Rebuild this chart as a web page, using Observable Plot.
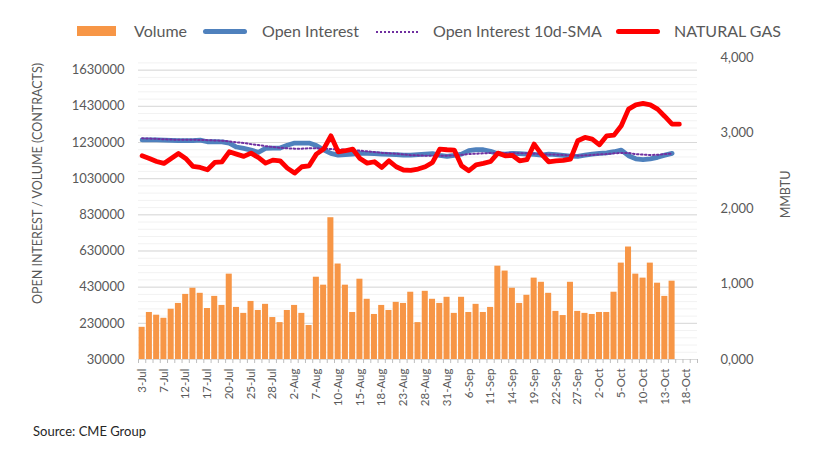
<!DOCTYPE html>
<html>
<head>
<meta charset="utf-8">
<script src="https://cdn.jsdelivr.net/npm/d3@7"></script>
<script src="https://cdn.jsdelivr.net/npm/@observablehq/plot@0.6"></script>
<style>
  html, body { margin: 0; padding: 0; background: #fff; }
  #wrap { position: relative; width: 816px; height: 457px; overflow: hidden; font-family: Lato, "Open Sans", sans-serif; color: #595959; }
  #legend { position: absolute; left: 0; top: 0; width: 816px; height: 50px; }
  .lg { position: absolute; }
  .lgt { position: absolute; top: 21px; font-size: 16px; line-height: 20px; white-space: nowrap; color: #595959; }
  #chart { position: absolute; left: 0; top: 50px; }
  #caption { position: absolute; left: 33px; top: 423px; font-size: 13px; color: #262626; }
</style>
</head>
<body>
<div id="wrap">
  <div id="legend">
    <div class="lg" style="left:77px;top:26px;width:39px;height:10px;background:#F79646"></div>
    <div class="lgt" style="left:134px">Volume</div>
    <div class="lg" style="left:203px;top:29px;width:44px;height:5px;border-radius:3px;background:#4F81BD"></div>
    <div class="lgt" style="left:262px">Open Interest</div>
    <div class="lg" style="left:376px;top:31px;width:42px;height:0;border-top:2px dotted #7030A0"></div>
    <div class="lgt" style="left:433px">Open Interest 10d-SMA</div>
    <div class="lg" style="left:616px;top:29px;width:44px;height:5px;border-radius:3px;background:#FF0000"></div>
    <div class="lgt" style="left:674px">NATURAL GAS</div>
  </div>
  <div id="chart"></div>
  <div id="caption">Source: CME Group</div>
</div>
<script>
const dates = [
  "3-Jul","5-Jul","6-Jul","7-Jul","10-Jul","11-Jul","12-Jul","13-Jul","14-Jul","17-Jul",
  "18-Jul","19-Jul","20-Jul","21-Jul","24-Jul","25-Jul","26-Jul","27-Jul","28-Jul","31-Jul",
  "1-Aug","2-Aug","3-Aug","4-Aug","7-Aug","8-Aug","9-Aug","10-Aug","11-Aug","14-Aug",
  "15-Aug","16-Aug","17-Aug","18-Aug","21-Aug","22-Aug","23-Aug","24-Aug","25-Aug","28-Aug",
  "29-Aug","30-Aug","31-Aug","1-Sep","5-Sep","6-Sep","7-Sep","8-Sep","11-Sep","12-Sep",
  "13-Sep","14-Sep","15-Sep","18-Sep","19-Sep","20-Sep","21-Sep","22-Sep","25-Sep","26-Sep",
  "27-Sep","28-Sep","29-Sep","2-Oct","3-Oct","4-Oct","5-Oct","6-Oct","9-Oct","10-Oct",
  "11-Oct","12-Oct","13-Oct","16-Oct","17-Oct","18-Oct","19-Oct"
];
const volume = [
  208000,290000,275000,258000,308000,340000,390000,424000,396000,312000,
  379000,329000,502000,318000,285000,351000,301000,335000,262000,234000,
  301000,329000,285000,218000,485000,441000,814000,558000,441000,290000,
  474000,363000,279000,329000,301000,346000,340000,402000,234000,407000,
  363000,340000,374000,285000,374000,290000,335000,290000,318000,546000,
  519000,424000,340000,385000,480000,457000,396000,296000,273000,457000,
  296000,285000,279000,290000,290000,402000,563000,652000,502000,480000,
  563000,452000,379000,463000
];
const openInterest = [
  1244000,1244000,1244000,1243000,1242000,1240000,1240000,1240000,1243000,1234000,
  1235000,1233000,1226000,1205000,1197000,1188000,1176000,1197000,1199000,1199000,
  1215000,1227000,1227000,1227000,1213000,1190000,1170000,1160000,1163000,1166000,
  1170000,1170000,1168000,1166000,1164000,1163000,1160000,1160000,1163000,1166000,
  1168000,1159000,1153000,1159000,1166000,1185000,1190000,1190000,1181000,1168000,
  1166000,1170000,1168000,1166000,1164000,1160000,1166000,1163000,1159000,1155000,
  1153000,1160000,1166000,1170000,1173000,1179000,1188000,1157000,1140000,1135000,
  1139000,1148000,1160000,1170000
];
const oiSma10 = [
  1253000,1252000,1250000,1248000,1246000,1245000,1245000,1245000,1244000,1243000,
  1241000,1240000,1236000,1231000,1227000,1221000,1216000,1210000,1205000,1201000,
  1198000,1196000,1196000,1198000,1198000,1196000,1194000,1192000,1190000,1188000,
  1185000,1181000,1177000,1173000,1170000,1168000,1164000,1160000,1159000,1157000,
  1157000,1157000,1157000,1159000,1162000,1166000,1168000,1170000,1172000,1172000,
  1172000,1172000,1170000,1170000,1168000,1166000,1164000,1163000,1161000,1159000,
  1157000,1159000,1161000,1164000,1166000,1170000,1172000,1172000,1166000,1163000,
  1161000,1162000,1166000,1168000
];
const naturalGas = [
  2698,2663,2623,2597,2663,2729,2663,2557,2544,2513,
  2610,2619,2751,2720,2690,2734,2676,2601,2641,2632,
  2535,2469,2553,2566,2720,2787,2963,2751,2765,2787,
  2663,2601,2619,2544,2632,2553,2510,2504,2522,2553,
  2610,2787,2778,2774,2566,2500,2579,2597,2623,2734,
  2698,2703,2632,2646,2853,2720,2619,2632,2637,2654,
  2897,2941,2919,2844,2963,2972,3095,3316,3373,3391,
  3373,3316,3219,3117,3117
];
const leftTicks = [30000,230000,430000,630000,830000,1030000,1230000,1430000,1630000];
const minorTicks = d3.range(30000, 1700000, 40000);
const rightTicks = [0,1000,2000,3000,4000];
const rightTickLabels = ["0,000","1,000","2,000","3,000","4,000"];
const xTickLabels = dates.filter((d, i) => i % 3 === 0);
const leftTitle = "OPEN INTEREST / VOLUME (CONTRACTS)";
const rightTitle = "MMBTU";

const leftMin = 30000, leftMax = 1700000, rightMax = 4000;
const toLeft = v => leftMin + v * (leftMax - leftMin) / rightMax;

const volRows = volume.map((v, i) => ({date: dates[i], v}));
const oiRows = openInterest.map((v, i) => ({date: dates[i], v}));
const smaRows = oiSma10.map((v, i) => ({date: dates[i], v}));
const gasRows = naturalGas.map((v, i) => ({date: dates[i], v: toLeft(v)}));

const W = 816, H = 370, mL = 138, mR = 119, mT = 7, mB = 61;
const step = (W - mL - mR) / dates.length;
const grey = "#595959";

const chart = Plot.plot({
  width: W, height: H,
  marginLeft: mL, marginRight: mR, marginTop: mT, marginBottom: mB,
  style: {fontFamily: "Lato, 'Open Sans', sans-serif", color: grey, background: "white", overflow: "visible"},
  x: {type: "band", domain: dates, paddingInner: 0.17, paddingOuter: 0.085, align: 0.5, round: false},
  y: {domain: [leftMin, leftMax], nice: false},
  marks: [
    Plot.gridY(minorTicks, {stroke: "#F2F2F2", strokeOpacity: 1}),
    Plot.gridY(leftTicks, {stroke: "#D9D9D9", strokeOpacity: 1}),
    Plot.ruleY([leftMin], {stroke: "#D9D9D9", strokeWidth: 1}),
    Plot.barY(volRows, {x: "date", y1: leftMin, y2: "v", fill: "#F79646"}),
    Plot.line(oiRows, {x: "date", y: "v", stroke: "#4F81BD", strokeWidth: 4.8, strokeLinejoin: "round", strokeLinecap: "round"}),
    Plot.line(smaRows, {x: "date", y: "v", stroke: "#7030A0", strokeWidth: 2, strokeDasharray: "1.6,2.4"}),
    Plot.line(gasRows, {x: "date", y: "v", stroke: "#FF0000", strokeWidth: 4.8, strokeLinejoin: "round", strokeLinecap: "round"}),
    Plot.axisY({ticks: leftTicks, tickSize: 0, tickPadding: 14, fontSize: 13, tickFormat: d => String(d), label: null}),
    Plot.axisY({anchor: "right", ticks: rightTicks.map(toLeft), tickFormat: (d, i) => rightTickLabels[i], tickSize: 0, tickPadding: 23, fontSize: 13, label: null}),
    Plot.axisX({ticks: xTickLabels, tickRotate: -90, tickSize: 0, tickPadding: 9, fontSize: 11.5, label: null}),
    Plot.axisX({ticks: dates, tickFormat: () => "", tickSize: 4, dx: -step / 2, stroke: "#BFBFBF", label: null}),
    Plot.axisX({ticks: [dates[dates.length - 1]], tickFormat: () => "", tickSize: 4, dx: step / 2, stroke: "#BFBFBF", label: null}),
    Plot.text([leftTitle], {frameAnchor: "left", dx: -101, dy: -25, rotate: -90, fontSize: 12.5, fill: grey, textAnchor: "middle"}),
    Plot.text([rightTitle], {frameAnchor: "right", dx: 88, dy: -14, rotate: -90, fontSize: 12.5, fill: grey, textAnchor: "middle"})
  ]
});
document.getElementById("chart").appendChild(chart);
</script>
</body>
</html>
